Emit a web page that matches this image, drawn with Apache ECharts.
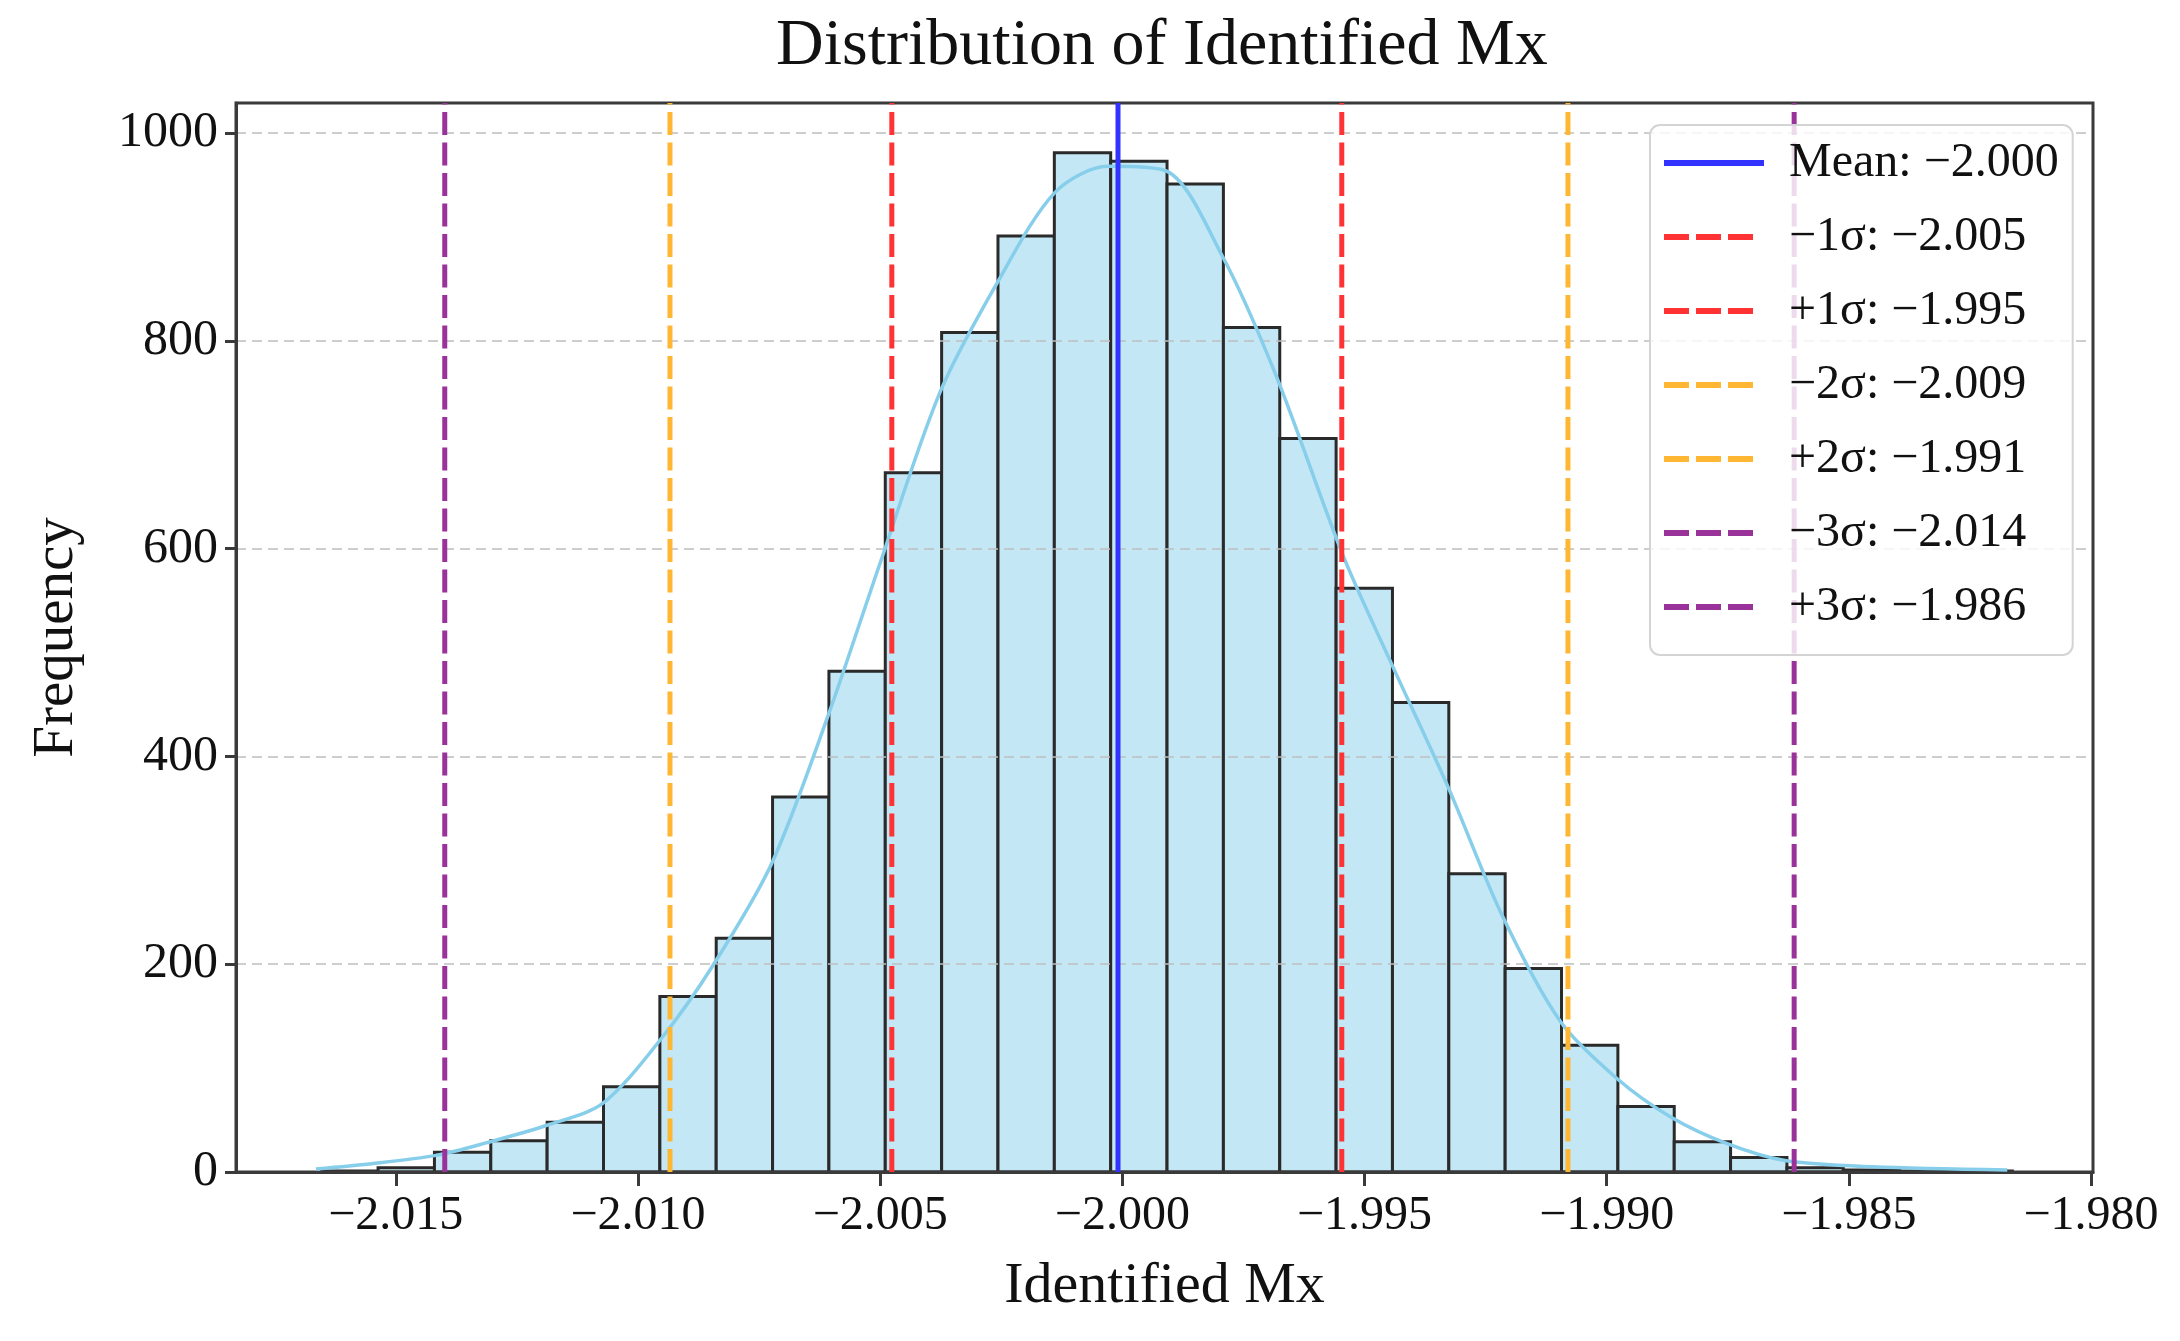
<!DOCTYPE html>
<html>
<head>
<meta charset="utf-8">
<script src="https://cdn.jsdelivr.net/npm/echarts@6/dist/echarts.min.js"></script>
<style>
html,body{margin:0;padding:0;background:#fff;}
#chart{width:2180px;height:1341px;}
</style>
</head>
<body>
<div id="chart"></div>
<script>
// ---- data ----
const xTicks = [-2.015, -2.010, -2.005, -2.000, -1.995, -1.990, -1.985, -1.980];
const yTicks = [0, 200, 400, 600, 800, 1000];
const binStart = -2.01653;
const binWidth = 0.0011635;
const counts = [1, 4, 19, 30, 48, 82, 169, 225, 361, 482, 673, 808, 901, 981, 973, 951, 813, 706, 562, 452, 287, 196, 122, 63, 29, 14, 4, 2, 1, 1];
const kdeX = [-2.01665, -2.0155, -2.01417, -2.01314, -2.01188, -2.01073, -2.00951, -2.00845, -2.00724, -2.00607, -2.00501, -2.00377, -2.00257, -2.00139, -2.00030, -1.99912, -1.99794, -1.99683, -1.99544, -1.99447, -1.99327, -1.99217, -1.99096, -1.98979, -1.98868, -1.9875, -1.98632, -1.9845, -1.98173];
const kdeY = [3, 8, 16, 28, 45, 66, 129, 199, 297, 440, 585, 750, 857, 943, 968, 964, 882, 767, 593, 492, 370, 248, 145, 90, 53, 27, 11, 5, 2];
const refNames = ['Mean: −2.000', '−1σ: −2.005', '+1σ: −1.995', '−2σ: −2.009', '+2σ: −1.991', '−3σ: −2.014', '+3σ: −1.986'];
const refValues = [-2.00009, -2.00476, -1.99547, -2.00934, -1.99080, -2.01399, -1.98613];
const refColors = ['#3333ff', '#ff3333', '#ff3333', '#ffb733', '#ffb733', '#993399', '#993399'];
const refDashed = [false, true, true, true, true, true, true];
const xMin = -2.0183, xMax = -1.97996, yMax = 1029;

const FONT = '"Liberation Serif", "DejaVu Serif", serif';
const fmtX = v => (v < 0 ? '\u2212' : '') + Math.abs(v).toFixed(3);
const SOLID_ICON = 'path://M0,0h100v6h-100z';
const DASH_ICON = 'path://M0,0h25v6h-25zM32,0h25v6h-25zM64,0h25v6h-25zM100,6';

const histData = counts.map((c, i) => [binStart + i * binWidth, binStart + (i + 1) * binWidth, c]);
const kdeData = kdeX.map((x, i) => [x, kdeY[i]]);

const refSeries = refNames.map((name, i) => ({
  name: name,
  type: 'custom',
  data: [[refValues[i], 0]],
  encode: { x: 0, y: 1 },
  z: 6,
  silent: true,
  itemStyle: { color: refColors[i] },
  renderItem: function (params, api) {
    const v = api.value(0);
    const a = api.coord([v, 0]);
    const b = api.coord([v, yMax]);
    return {
      type: 'line',
      shape: { x1: a[0], y1: a[1], x2: b[0], y2: b[1] },
      style: { stroke: refColors[i], lineWidth: 5, lineDash: refDashed[i] ? [23, 7.5] : null, fill: null }
    };
  }
}));

const chart = echarts.init(document.getElementById('chart'), null, { renderer: 'canvas' });
chart.setOption({
  animation: false,
  backgroundColor: '#ffffff',
  title: {
    text: 'Distribution of Identified Mx',
    left: 776,
    top: 14,
    padding: 0,
    textStyle: { fontFamily: FONT, fontSize: 66, fontWeight: 'normal', color: '#111' }
  },
  grid: {
    left: 236, right: 87, top: 103, bottom: 169, z: 4,
    show: true, borderColor: '#3a3a3a', borderWidth: 3, backgroundColor: 'transparent'
  },
  xAxis: {
    type: 'value',
    min: xMin, max: xMax,
    z: 4,
    name: 'Identified Mx',
    nameLocation: 'middle',
    nameGap: 86,
    nameTextStyle: { fontFamily: FONT, fontSize: 58, color: '#111' },
    axisLine: { show: true, onZero: false, lineStyle: { color: '#3a3a3a', width: 3 } },
    axisTick: { show: true, customValues: xTicks, length: 14, lineStyle: { color: '#3a3a3a', width: 3 } },
    axisLabel: { customValues: xTicks, formatter: fmtX, margin: 20, fontFamily: FONT, fontSize: 48, color: '#111' },
    splitLine: { show: false }
  },
  yAxis: {
    type: 'value',
    min: 0, max: yMax, interval: 200,
    z: 3,
    name: 'Frequency',
    nameLocation: 'middle',
    nameGap: 150,
    nameTextStyle: { fontFamily: FONT, fontSize: 57, color: '#111' },
    axisLine: { show: true, lineStyle: { color: '#3a3a3a', width: 3 } },
    axisTick: { show: true, customValues: yTicks, length: 11, lineStyle: { color: '#3a3a3a', width: 3 } },
    axisLabel: { customValues: yTicks, formatter: v => String(v), margin: 18, fontFamily: FONT, fontSize: 50, color: '#111' },
    splitLine: { show: true, lineStyle: { color: 'rgba(190,190,190,0.75)', width: 2, type: [10, 6] } }
  },
  legend: {
    data: refNames.map((n, i) => ({ name: n, icon: refDashed[i] ? DASH_ICON : SOLID_ICON })),
    orient: 'vertical',
    left: 1650,
    top: 125,
    padding: [12, 14, 22, 14],
    itemGap: 22,
    itemWidth: 100,
    itemHeight: 6,
    backgroundColor: 'rgba(255,255,255,0.82)',
    borderColor: '#d4d4d4',
    borderWidth: 2,
    borderRadius: 10,
    selectedMode: false,
    textStyle: { fontFamily: FONT, fontSize: 48, color: '#111', lineHeight: 52, padding: [0, 0, 0, 20] },
    z: 10
  },
  series: [
    {
      type: 'custom',
      name: 'hist',
      z: 2,
      silent: true,
      data: histData,
      encode: { x: [0, 1], y: 2 },
      renderItem: function (params, api) {
        const x0 = api.value(0), x1 = api.value(1), c = api.value(2);
        const p0 = api.coord([x0, c]);
        const p1 = api.coord([x1, 0]);
        return {
          type: 'rect',
          shape: { x: p0[0], y: p0[1], width: p1[0] - p0[0], height: p1[1] - p0[1] },
          style: { fill: '#c3e7f5', stroke: '#2a2a2a', lineWidth: 3 }
        };
      }
    },
    {
      type: 'line',
      name: 'kde',
      data: kdeData,
      smooth: 0.3,
      symbol: 'none',
      z: 5,
      silent: true,
      lineStyle: { color: '#87ceeb', width: 3.5 }
    }
  ].concat(refSeries)
});
</script>
</body>
</html>
